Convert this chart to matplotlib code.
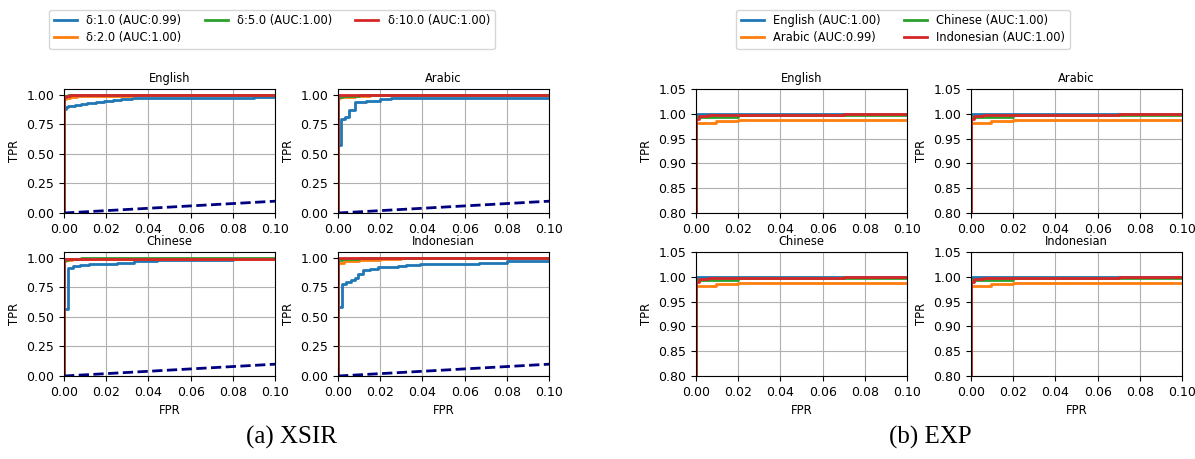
"""ROC curves (low-FPR zoom) for the XSIR and EXP watermark detectors."""
import matplotlib

matplotlib.use("Agg")
import matplotlib.pyplot as plt
from matplotlib.lines import Line2D

LANGS = ["English", "Arabic", "Chinese", "Indonesian"]

# XSIR: one ROC per delta value, per language
DELTA_LABELS = ["δ:1.0 (AUC:0.99)", "δ:2.0 (AUC:1.00)", "δ:5.0 (AUC:1.00)", "δ:10.0 (AUC:1.00)"]

xsir_english_fpr = [
    [0, 0, 0.001, 0.002, 0.005, 0.008, 0.011, 0.015, 0.019, 0.023, 0.027, 0.032, 0.043, 0.055, 0.070, 0.090, 0.100],
    [0, 0, 0.001, 0.003, 0.006, 0.012, 0.020, 0.032, 0.100],
    [0, 0, 0.002, 0.020, 0.040, 0.100],
    [0, 0, 0.001, 0.003, 0.100],
]
xsir_english_tpr = [
    [0, 0.88, 0.90, 0.909, 0.917, 0.925, 0.931, 0.940, 0.951, 0.958, 0.966, 0.971, 0.974, 0.976, 0.977, 0.980, 0.980],
    [0, 0.965, 0.975, 0.982, 0.987, 0.990, 0.992, 0.995, 0.996],
    [0, 0.990, 0.995, 0.998, 1.000, 1.000],
    [0, 0.985, 0.993, 0.996, 0.996],
]

xsir_arabic_fpr = [
    [0, 0, 0.0015, 0.0035, 0.0052, 0.008, 0.0135, 0.020, 0.025, 0.081, 0.100],
    [0, 0, 0.001, 0.003, 0.008, 0.015, 0.100],
    [0, 0, 0.002, 0.010, 0.100],
    [0, 0, 0.001, 0.100],
]
xsir_arabic_tpr = [
    [0, 0.58, 0.80, 0.81, 0.87, 0.937, 0.945, 0.966, 0.971, 0.975, 0.975],
    [0, 0.970, 0.980, 0.985, 0.990, 0.995, 0.996],
    [0, 0.985, 0.993, 0.998, 0.998],
    [0, 0.995, 0.997, 0.997],
]

xsir_chinese_fpr = [
    [0, 0, 0.002, 0.0045, 0.0075, 0.012, 0.017, 0.025, 0.033, 0.044, 0.057, 0.080, 0.100],
    [0, 0, 0.001, 0.004, 0.010, 0.100],
    [0, 0, 0.002, 0.008, 0.100],
    [0, 0, 0.001, 0.100],
]
xsir_chinese_tpr = [
    [0, 0.57, 0.911, 0.930, 0.940, 0.945, 0.950, 0.960, 0.970, 0.980, 0.985, 0.990, 0.990],
    [0, 0.975, 0.985, 0.990, 0.994, 0.995],
    [0, 0.980, 0.990, 0.997, 0.998],
    [0, 0.990, 0.994, 0.994],
]

xsir_indonesian_fpr = [
    [0, 0, 0.002, 0.004, 0.0063, 0.008, 0.0095, 0.012, 0.015, 0.019, 0.0285, 0.032, 0.039, 0.051, 0.067, 0.080, 0.100],
    [0, 0, 0.003, 0.010, 0.020, 0.030, 0.100],
    [0, 0, 0.002, 0.010, 0.100],
    [0, 0, 0.001, 0.100],
]
xsir_indonesian_tpr = [
    [0, 0.586, 0.777, 0.800, 0.810, 0.830, 0.860, 0.900, 0.910, 0.920, 0.930, 0.940, 0.945, 0.950, 0.960, 0.970, 0.975],
    [0, 0.960, 0.975, 0.985, 0.990, 0.995, 0.996],
    [0, 0.985, 0.993, 0.998, 0.998],
    [0, 0.995, 1.000, 1.000],
]

# EXP: one ROC per language (the same detector results in every panel)
EXP_LABELS = ["English (AUC:1.00)", "Arabic (AUC:0.99)", "Chinese (AUC:1.00)", "Indonesian (AUC:1.00)"]
exp_fpr = [
    [0, 0, 0.100],
    [0, 0, 0.0095, 0.020, 0.100],
    [0, 0, 0.020, 0.100],
    [0, 0, 0.0016, 0.0056, 0.040, 0.070, 0.100],
]
exp_tpr = [
    [0, 0.9994, 0.9994],
    [0, 0.9824, 0.9845, 0.9865, 0.9865],
    [0, 0.9930, 0.9966, 0.9966],
    [0, 0.9905, 0.9946, 0.9970, 0.9980, 1.0000, 1.0000],
]

COLORS = ["tab:blue", "tab:orange", "tab:green", "tab:red"]
FS = 8.3
TICK_FS = 9
W, H = 1195, 459


def _rect(x0, y0, x1, y1):
    return [x0 / W, 1 - y1 / H, (x1 - x0) / W, (y1 - y0) / H]


def draw_panel(ax, title, fprs, tprs, ylim, yticks, diagonal, bottom):
    for fpr, tpr, color in zip(fprs, tprs, COLORS):
        ax.plot(fpr, tpr, color=color, lw=2, drawstyle="steps-post")
    if diagonal:
        ax.plot([0, 1], [0, 1], color="navy", lw=2, linestyle="--")
    ax.set_xlim(0.0, 0.1)
    ax.set_ylim(*ylim)
    ax.set_yticks(yticks)
    ax.set_xticks([0.0, 0.02, 0.04, 0.06, 0.08, 0.1])
    ax.grid(True)
    ax.set_title(title, fontsize=FS, pad=5)
    ax.set_ylabel("TPR", fontsize=FS)
    if bottom:
        ax.set_xlabel("FPR", fontsize=FS)
    ax.tick_params(labelsize=TICK_FS)


fig = plt.figure(figsize=(W / 100, H / 100), dpi=100)

col_x = [(64, 275), (338, 549), (696, 907), (971, 1182)]
row_y = [(89, 213), (252, 376)]

xsir_fpr = [xsir_english_fpr, xsir_arabic_fpr, xsir_chinese_fpr, xsir_indonesian_fpr]
xsir_tpr = [xsir_english_tpr, xsir_arabic_tpr, xsir_chinese_tpr, xsir_indonesian_tpr]

for i, lang in enumerate(LANGS):
    r, c = divmod(i, 2)
    (x0, x1), (y0, y1) = col_x[c], row_y[r]
    ax = fig.add_axes(_rect(x0, y0, x1, y1))
    draw_panel(ax, lang, xsir_fpr[i], xsir_tpr[i], (0.0, 1.05),
               [0.0, 0.25, 0.5, 0.75, 1.0], diagonal=True, bottom=r == 1)

    (x0, x1) = col_x[c + 2]
    ax = fig.add_axes(_rect(x0, y0, x1, y1))
    draw_panel(ax, lang, exp_fpr, exp_tpr, (0.8, 1.05),
               [0.8, 0.85, 0.9, 0.95, 1.0, 1.05], diagonal=False, bottom=r == 1)

delta_handles = [Line2D([0], [0], color=c, lw=2) for c in COLORS]
fig.legend(delta_handles, DELTA_LABELS, loc="upper center",
           bbox_to_anchor=(272 / W, 1 - 4 / H), ncol=3, fontsize=FS,
           labelspacing=0.35)
exp_handles = [Line2D([0], [0], color=c, lw=2) for c in COLORS]
fig.legend(exp_handles, EXP_LABELS, loc="upper center",
           bbox_to_anchor=(903 / W, 1 - 4 / H), ncol=2, fontsize=FS,
           labelspacing=0.35)

fig.text(292 / W, 1 - 437 / H, "(a) XSIR", family="Liberation Serif",
         fontsize=18, ha="center", va="center")
fig.text(930 / W, 1 - 437 / H, "(b) EXP", family="Liberation Serif",
         fontsize=18, ha="center", va="center")

fig.savefig("out.png", dpi=100)
